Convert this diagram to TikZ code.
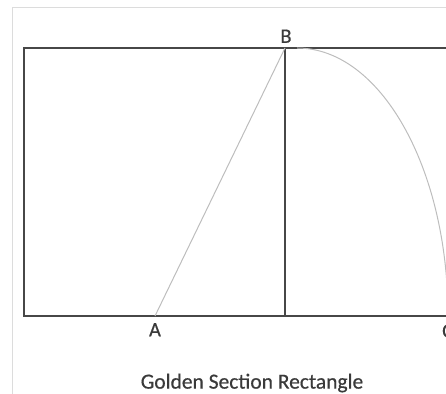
\documentclass[tikz,border=0pt]{standalone}
\usepackage{fontspec}
\setmainfont{Carlito}
\newfontfamily\gsfont[FakeBold=0.5]{Carlito}
\usepackage{xcolor}
\usepackage{tikz}
\usetikzlibrary{positioning}
\definecolor{gsdark}{HTML}{474747}
\definecolor{gstext}{HTML}{3A3A3A}
\definecolor{gslight}{HTML}{BDBDBD}
\definecolor{gsframe}{HTML}{DCDCDC}

\begin{document}
\begin{tikzpicture}[x=1pt, y=1pt,
        lbl/.style={text=gstext, inner sep=0pt, font=\gsfont\fontsize{20.5}{24}\selectfont},
        edge/.style={gsdark, line width=2pt},
        guide/.style={gslight, line width=1pt}]
        \useasboundingbox (0,0) rectangle (446,393);
        \clip (0,0) rectangle (446,393);
        % frame of the figure
        \draw[gsframe, line width=0.9pt] (12.5,-5) -- (12.5,386) -- (460,386);
        % corners of the construction
        \coordinate (tl) at (24,345);
        \coordinate (bl) at (24,77);
        \coordinate (A) at (155,77);
        \coordinate (B) at (285,345);
        \coordinate (M) at (285,77);
        \coordinate (C) at (448,77);
        \coordinate (arcstart) at (297,345);
        % golden rectangle
        \draw[edge, line join=miter] (460,345) -- (tl) -- (bl) -- (460,77);
        \draw[edge] (B) -- (M);
        % construction lines
        \draw[guide] (A) -- (B);
        \draw[guide] (arcstart) arc[start angle=90, end angle=0, x radius=151, y radius=268];
        % labels
        \node[lbl, above=5pt of B, xshift=1pt] (lb) {B};
        \node[lbl, below=7pt of A] (la) {A};
        \node[lbl, anchor=north west] (lc) at (442,69) {C};
        \node[text=gstext, font=\gsfont\fontsize{21.5}{24}\selectfont] (title) at (252,10) {Golden Section Rectangle};
      \end{tikzpicture}
\end{document}
